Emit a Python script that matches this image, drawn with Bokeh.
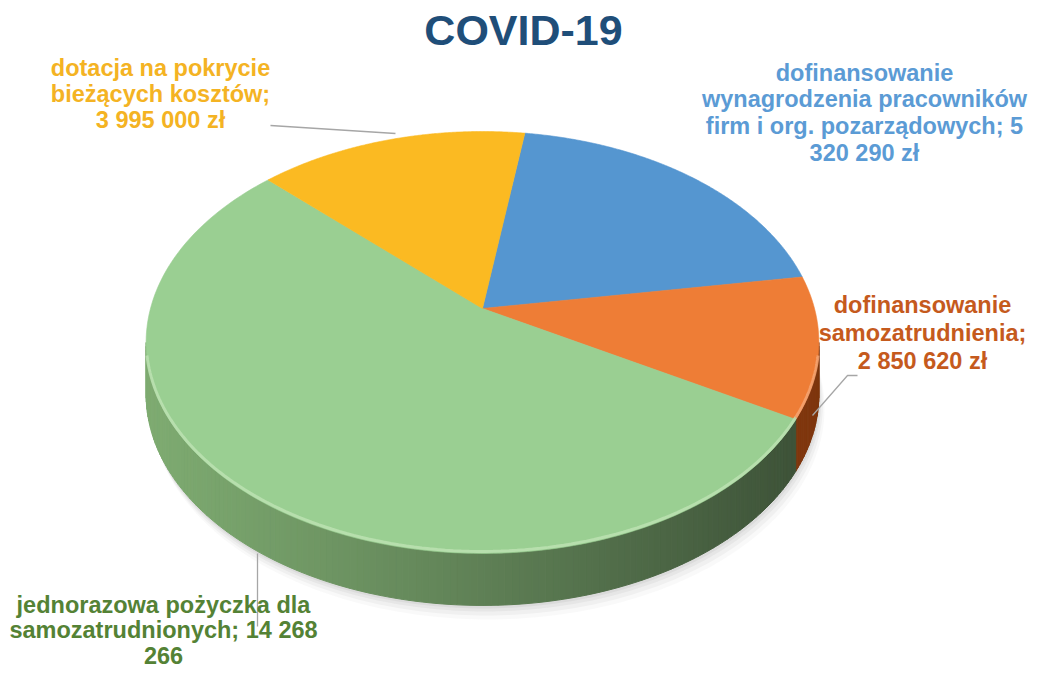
import numpy as np
from bokeh.plotting import figure
from bokeh.models import Range1d
from bokeh.core.properties import value
from bokeh.embed import file_html
from bokeh.resources import INLINE

# ---- data (clockwise order from the start angle) ----
categories = [
    "dofinansowanie wynagrodzenia pracowników firm i org. pozarządowych",
    "dofinansowanie samozatrudnienia",
    "jednorazowa pożyczka dla samozatrudnionych",
    "dotacja na pokrycie bieżących kosztów",
]
values = [5320290, 2850620, 14268266, 3995000]
label_lines = [
    ["dofinansowanie", "wynagrodzenia pracowników", "firm i org. pozarządowych; 5", "320 290 zł"],
    ["dofinansowanie", "samozatrudnienia;", "2 850 620 zł"],
    ["jednorazowa pożyczka dla", "samozatrudnionych; 14 268", "266"],
    ["dotacja na pokrycie", "bieżących kosztów;", "3 995 000 zł"],
]
title_text = "COVID-19"

# ---- styling ----
top_colors = ["#5596D0", "#EE7D36", "#9ACF92", "#FBBA22"]
rim_colors = ["#8DBBE6", "#F6A877", "#BEE2B4", "#FDD67A"]
side_light = ["#3F6F9C", "#A8501C", "#7EAB71", "#B88714"]
side_dark = ["#2D5276", "#7E360E", "#3B4F36", "#8A650F"]
label_colors = ["#5B9BD5", "#C55A1D", "#548235", "#F4B323"]
label_pos = [(864, 72), (922, 304), (163, 604), (160, 67)]
line_step = [26.7, 28.0, 25.5, 26.0]
start_angle = 8.5  # degrees clockwise from 12 o'clock

# pie projection parameters (screen pixels)
cx, cy, A, B, K, DEPTH = 482.0, 308.0, 332.0, 205.5, 0.161, 52.0


def proj(theta_deg, dz=0.0):
    t = np.radians(theta_deg)
    u = np.sin(t)
    v = -np.cos(t)
    w = 1 - K * v
    return cx + A * u / w, cy + B * v / w + dz


def hex2rgb(h):
    return np.array([int(h[i:i + 2], 16) for i in (1, 3, 5)], dtype=float)


def mix(c1, c2, t):
    r = hex2rgb(c1) * (1 - t) + hex2rgb(c2) * t
    return "#%02x%02x%02x" % tuple(int(round(x)) for x in r)


total = float(sum(values))
bounds = [start_angle]
for v in values:
    bounds.append(bounds[-1] + 360.0 * v / total)

p = figure(width=1030, height=668, output_backend="svg", toolbar_location=None,
           x_range=Range1d(0, 1030), y_range=Range1d(668, 0), min_border=0)
p.axis.visible = False
p.grid.visible = False
p.outline_line_color = None
p.background_fill_color = "white"

# ---- soft shadow ----
full = np.linspace(0, 360, 361)
for off, alpha in [(14, 0.05), (10, 0.07), (6, 0.09), (3, 0.1)]:
    sx, sy = proj(full, DEPTH + off)
    p.patch(sx + off * 0.4, sy, fill_color="#808080", fill_alpha=alpha, line_color=None)

# ---- visible side strips ----
th_r = np.degrees(np.arccos(-K))
th_l = 360 - th_r
sxs, sys, scol = [], [], []
for i in range(len(values)):
    for base in (0.0, 360.0):
        s = max(bounds[i] - base, th_r)
        e = min(bounds[i + 1] - base, th_l)
        if e <= s:
            continue
        n = max(2, int((e - s) / 1.0) + 1)
        ts = np.linspace(s, e, n + 1)
        for j in range(n):
            a0, a1 = ts[j], ts[j + 1]
            x0, y0 = proj(a0)
            x1, y1 = proj(a1)
            xs = [x0, x1, x1, x0]
            ys = [y0, y1, y1 + DEPTH, y0 + DEPTH]
            tt = np.clip(((x0 + x1) / 2 - 145) / (818 - 145), 0, 1) ** 1.1
            sxs.append(xs)
            sys.append(ys)
            scol.append(mix(side_light[i], side_dark[i], tt))
p.patches(sxs, sys, fill_color=scol, line_color=scol, line_width=1)

# ---- top faces ----
txs, tys = [], []
for i in range(len(values)):
    ts = np.linspace(bounds[i], bounds[i + 1], 200)
    x, y = proj(ts)
    txs.append([cx] + list(x))
    tys.append([cy] + list(y))
p.patches(txs, tys, fill_color=top_colors, line_color=top_colors, line_width=0.6)

# rim highlight on the front edge
for i in range(len(values)):
    for base in (0.0, 360.0):
        s = max(bounds[i] - base, th_r + 4)
        e = min(bounds[i + 1] - base, th_l - 4)
        if e <= s:
            continue
        ts = np.linspace(s, e, 120)
        x, y = proj(ts, -2)
        p.line(x, y, line_color=rim_colors[i], line_width=3, line_alpha=0.8)

# ---- leader lines ----
lead_color = "#A6A6A6"
p.line([270, 395], [125, 133], line_color=lead_color, line_width=1.3)
p.line([857, 847, 812], [375, 375, 415], line_color=lead_color, line_width=1.3)
p.line([257, 257], [553, 626], line_color=lead_color, line_width=1.3)

# ---- labels ----
for i in range(len(values)):
    x0, y0 = label_pos[i]
    lines = label_lines[i]
    ys = [y0 + k * line_step[i] for k in range(len(lines))]
    p.text(x=[x0] * len(lines), y=ys, text=lines, text_color=label_colors[i],
           text_font=value("Liberation Sans"), text_font_style="bold",
           text_font_size="23.5px", text_align="center", text_baseline="middle")

p.text(x=[523], y=[29], text=[title_text], text_color="#1F4E79",
       text_font=value("Liberation Sans"), text_font_style="bold",
       text_font_size="43px", text_align="center", text_baseline="middle")

open("out.html", "w").write(file_html(p, INLINE))
